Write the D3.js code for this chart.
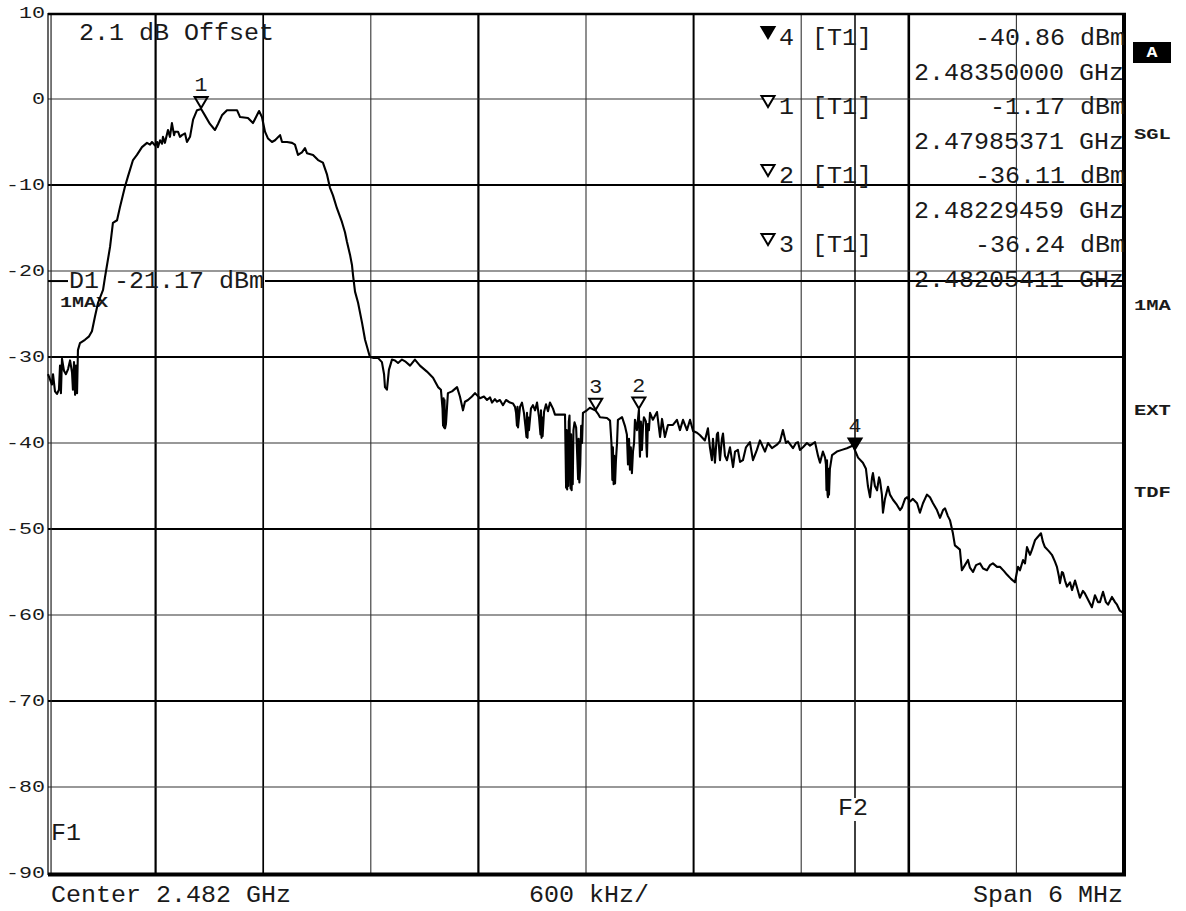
<!DOCTYPE html>
<html><head><meta charset="utf-8">
<script src="https://cdn.jsdelivr.net/npm/d3@7"></script>
<style>html,body{margin:0;padding:0;background:#fff;} svg{display:block;}</style>
</head><body><svg id="c" width="1186" height="911"></svg>
<script>
// ---------------- data ----------------
const startGHz = 2.479;            // F start (center 2.482 GHz, span 6 MHz)
const spanKHz = 6000;
const centerLabel = "Center 2.482 GHz";
const divLabel = "600 kHz/";
const spanLabel = "Span 6 MHz";
const offsetLabel = "2.1 dB Offset";
const yTicks = [10, 0, -10, -20, -30, -40, -50, -60, -70, -80, -90];
const xDivsKHz = [0, 600, 1200, 1800, 2400, 3000, 3600, 4200, 4800, 5400, 6000];
const displayLineDbm = -21.17;
const displayLineName = "D1";
const f1GHz = 2.479017;
const f2GHz = 2.4835;
const sideLabels = ["SGL", "1MA", "EXT", "TDF"];
const traceLabel = "1MAX";

// trace: frequency offset from start (kHz) and level (dBm)
const traceKHz = [
0,11,22,28,39,50,61,67,72,78,
89,100,112,123,134,139,145,151,156,162,
167,178,206,229,245,262,279,307,318,346,
362,385,401,429,446,474,496,524,552,569,
580,597,608,613,625,636,641,652,669,680,
691,703,708,725,736,747,764,775,792,809,
831,854,875,903,931,948,970,998,1054,1071,
1115,1143,1165,1177,1193,1210,1227,1249,1266,1294,
1305,1333,1361,1377,1394,1416,1433,1444,1478,1506,
1533,1556,1572,1589,1611,1639,1656,1667,1684,1695,
1701,1712,1729,1751,1768,1795,1812,1840,1862,1874,
1879,1890,1901,1918,1935,1952,1974,1991,2019,2046,
2074,2113,2147,2175,2191,2200,2203,2206,2208,2211,2214,2219,2230,2253,
2281,2297,2314,2325,2342,2364,2381,2409,2431,2448,
2465,2476,2492,2504,2520,2537,2554,2576,2593,2604,
2610,2615,2618,2621,2632,2643,2654,2662,2668,2671,2674,2677,2682,2693,2704,2716,
2727,2738,2746,2749,2752,2755,2758,2766,2777,2788,2799,2816,2827,2883,
2886,2889,2892,2895,2898,2901,2904,2908,2911,2914,2917,2920,2923,2926,2930,2936,2945,
2952,2956,2959,2963,2968,2973,2978,2983,3005,3022,3054,3067,3078,3117,
3134,3142,3147,3150,3154,3157,3162,3167,3173,3178,3201,3217,3228,3234,3240,3245,
3250,3256,3262,3268,3273,3284,3295,3298,3301,3306,3312,3318,3323,3334,3337,3340,3345,3351,
3357,3373,3396,3413,3424,3440,3457,3485,3507,3524,
3541,3563,3580,3597,3619,3636,3663,3680,3691,3702,
3708,3719,3730,3736,3747,3758,3764,3775,3786,3803,
3820,3831,3847,3859,3875,3892,3914,3931,3953,3970,
3998,4015,4037,4065,4082,4098,4115,4126,4154,4171,
4182,4193,4210,4232,4249,4277,4294,4305,4321,4333,
4338,4341,4344,4347,4349,4352,4355,4360,4372,4399,4427,4455,4489,4500,4517,
4544,4561,4572,4584,4595,4600,4611,4623,4634,4639,
4650,4656,4667,4684,4695,4712,4734,4751,4762,4779,
4790,4807,4823,4846,4862,4879,4901,4918,4935,4957,
4974,4991,5002,5018,5030,5046,5057,5074,5085,5096,
5113,5130,5141,5158,5175,5197,5214,5236,5253,5269,
5292,5308,5331,5347,5370,5392,5403,5409,5420,5437,
5448,5459,5476,5487,5504,5520,5537,5548,5559,5582,
5598,5615,5626,5637,5643,5654,5660,5671,5682,5699,
5710,5727,5738,5754,5771,5782,5799,5821,5838,5855,
5866,5883,5899,5911,5933,5950,5961,5977,6000
];
const traceDbm = [
-32.0,-32.6,-33.2,-32.0,-34.0,-34.3,-33.8,-31.0,-34.2,-30.2,
-31.6,-32.0,-31.4,-30.4,-31.8,-33.8,-30.6,-34.4,-31.0,-34.2,
-29.2,-28.4,-28.0,-27.6,-27.0,-25.3,-23.7,-22.2,-20.7,-17.2,
-14.4,-14.1,-12.6,-10.2,-9.0,-7.1,-6.5,-5.6,-5.1,-5.3,
-5.0,-5.4,-5.0,-5.6,-4.8,-5.2,-4.4,-5.1,-3.6,-4.4,
-2.8,-4.2,-3.8,-3.8,-4.4,-4.2,-4.0,-5.0,-4.4,-2.4,
-1.3,-1.17,-1.9,-2.9,-3.6,-2.9,-1.9,-1.3,-1.3,-2.1,
-2.2,-2.8,-1.9,-1.4,-2.1,-3.8,-4.6,-5.0,-4.8,-4.2,
-5.0,-5.0,-5.1,-5.3,-6.5,-6.2,-5.7,-6.3,-6.5,-7.1,
-7.4,-8.8,-10.3,-11.2,-12.7,-14.3,-15.5,-16.6,-18.1,-19.3,
-20.5,-22.4,-23.7,-26.0,-28.0,-30.0,-30.1,-30.1,-30.6,-32.0,
-33.5,-33.8,-31.5,-30.3,-30.4,-30.7,-30.3,-30.5,-31.0,-30.3,
-31.0,-31.7,-32.4,-33.5,-33.8,-36.0,-38.0,-34.8,-38.2,-35.0,-38.3,-37.8,-34.2,-34.0,
-33.5,-34.6,-36.2,-35.2,-35.0,-34.6,-34.2,-34.8,-34.6,-35.0,
-34.7,-35.3,-34.9,-35.2,-35.0,-35.6,-35.0,-35.3,-35.4,-35.8,
-36.5,-38.0,-35.8,-38.2,-35.8,-35.3,-36.5,-38.0,-39.3,-36.5,-39.4,-37.0,-38.5,-36.0,-35.6,-36.2,
-35.3,-37.0,-39.0,-36.2,-39.4,-37.0,-39.2,-36.4,-35.5,-36.3,-35.3,-36.0,-36.7,-36.7,
-41.0,-45.2,-38.5,-45.4,-40.0,-45.0,-37.5,-36.8,-42.0,-45.3,-39.0,-45.5,-41.0,-44.8,-38.5,-37.6,-38.2,
-42.0,-44.2,-39.5,-44.6,-42.5,-38.0,-40.0,-36.5,-36.2,-35.9,-36.24,-36.6,-37.0,-37.1,
-37.4,-40.0,-44.3,-40.5,-44.8,-41.5,-44.7,-42.0,-40.0,-37.3,-37.0,-38.0,-39.0,-42.5,-39.5,-43.1,
-40.5,-43.5,-41.0,-40.0,-37.3,-38.5,-36.11,-39.5,-41.6,-37.5,-40.8,-38.0,-37.0,-37.5,-40.5,-41.6,-37.8,-38.5,
-36.5,-37.3,-36.4,-39.3,-37.2,-39.3,-37.9,-37.9,-37.3,-38.5,
-37.3,-38.5,-37.3,-38.6,-38.8,-39.1,-39.7,-38.3,-40.5,-42.0,
-39.5,-42.3,-39.0,-38.8,-42.0,-39.5,-38.9,-41.5,-42.0,-40.5,
-42.8,-41.0,-40.8,-42.2,-42.0,-40.5,-39.9,-42.0,-40.8,-39.7,
-41.0,-40.0,-40.6,-40.2,-39.8,-38.5,-40.0,-39.8,-40.6,-40.0,
-39.9,-40.8,-40.5,-40.0,-40.3,-39.9,-41.5,-42.3,-41.0,-41.7,
-42.5,-45.5,-42.0,-46.0,-46.3,-43.0,-46.0,-43.0,-41.4,-41.0,-40.8,-40.6,-40.3,-40.86,-41.7,
-42.3,-43.0,-45.0,-46.3,-44.0,-43.5,-45.0,-45.5,-44.0,-44.3,
-46.0,-48.1,-46.5,-45.1,-46.0,-46.6,-47.2,-47.8,-47.5,-46.5,
-46.3,-46.8,-46.5,-47.0,-48.1,-47.0,-46.0,-46.3,-47.0,-47.8,
-48.7,-47.8,-47.6,-48.5,-49.0,-50.5,-51.9,-52.2,-52.4,-54.8,
-54.2,-53.6,-54.5,-55.0,-54.2,-54.0,-54.6,-54.8,-54.2,-54.0,
-54.4,-54.4,-54.9,-55.3,-55.8,-56.2,-55.0,-54.4,-54.8,-53.6,
-54.0,-52.1,-53.0,-52.4,-51.3,-50.9,-50.5,-51.5,-52.1,-52.6,
-53.0,-53.8,-54.4,-55.5,-56.3,-55.0,-55.1,-56.0,-56.7,-56.2,
-57.1,-56.0,-56.8,-58.0,-57.2,-57.5,-58.2,-59.1,-57.7,-58.5,
-58.5,-57.3,-58.5,-58.8,-57.9,-58.5,-58.8,-59.5,-59.8
];

// markers (table order)
const markerIds = [4, 1, 2, 3];
const markerGHz = [2.48350000, 2.47985371, 2.48229459, 2.48205411];
const markerDbm = [-40.86, -1.17, -36.11, -36.24];
const markerActive = [true, false, false, false];
const markerTrace = "[T1]";

// ---------------- drawing ----------------
const svg = d3.select("#c");
const L = 48, R = 1124, T = 13, B = 873;
const FONT = "'Liberation Mono', 'Courier New', monospace";
const CW = 15; // char advance of the display font

const x = d3.scaleLinear().domain([0, spanKHz]).range([L, R]);
const y = d3.scaleLinear().domain([10, -90]).range([T, B]);
const ghzToKHz = g => (g - startGHz) * 1e6;

svg.append("rect").attr("width", 1186).attr("height", 911).attr("fill", "#fff");

function txt(g, s, px, py, opts = {}) {
  const size = opts.size || 23;
  const cw = opts.cw || CW;
  return g.append("text")
    .attr("x", px).attr("y", py)
    .attr("font-family", FONT)
    .attr("font-size", size)
    .attr("font-weight", opts.bold ? "bold" : "normal")
    .attr("fill", opts.fill || "#1a1a1a")
    .attr("text-anchor", opts.anchor || "start")
    .attr("textLength", s.length * cw)
    .attr("lengthAdjust", "spacingAndGlyphs")
    .text(s);
}

// grid
const grid = svg.append("g");
const vWidths = {1: 2.2, 2: 1.7, 4: 2.2, 6: 2.0, 8: 2.6};
xDivsKHz.forEach((k, i) => {
  if (i === 0 || i === xDivsKHz.length - 1) return;
  const w = vWidths[i] || 1.1;
  grid.append("line")
    .attr("x1", x(k)).attr("x2", x(k)).attr("y1", T).attr("y2", B)
    .attr("stroke", w > 1.5 ? "#000" : "#333").attr("stroke-width", w);
});
const hWidths = {"-10": 2.2, "-30": 2.2, "-50": 2.2, "-70": 2.2};
yTicks.forEach(v => {
  if (v === 10 || v === -90) return;
  const w = hWidths[String(v)] || 1.1;
  grid.append("line")
    .attr("x1", L).attr("x2", R).attr("y1", y(v)).attr("y2", y(v))
    .attr("stroke", w > 1.5 ? "#000" : "#333").attr("stroke-width", w);
});

// F1 / F2 frequency lines
grid.append("line").attr("x1", x(ghzToKHz(f1GHz))).attr("x2", x(ghzToKHz(f1GHz)))
  .attr("y1", T).attr("y2", B).attr("stroke", "#222").attr("stroke-width", 1.2);
const xf2 = x(ghzToKHz(f2GHz));
grid.append("line").attr("x1", xf2).attr("x2", xf2).attr("y1", T).attr("y2", 798)
  .attr("stroke", "#111").attr("stroke-width", 1.6);
grid.append("line").attr("x1", xf2).attr("x2", xf2).attr("y1", 821).attr("y2", B)
  .attr("stroke", "#111").attr("stroke-width", 1.6);

// display line D1 (broken around its label)
const yD1 = y(displayLineDbm);
grid.append("line").attr("x1", L).attr("x2", 68).attr("y1", yD1).attr("y2", yD1)
  .attr("stroke", "#000").attr("stroke-width", 2);
grid.append("line").attr("x1", 265).attr("x2", R).attr("y1", yD1).attr("y2", yD1)
  .attr("stroke", "#000").attr("stroke-width", 2);

// frame
const frame = svg.append("g");
frame.append("line").attr("x1", L).attr("x2", L).attr("y1", T).attr("y2", B + 2)
  .attr("stroke", "#000").attr("stroke-width", 1.2);
frame.append("line").attr("x1", L).attr("x2", R + 2).attr("y1", T + 1).attr("y2", T + 1)
  .attr("stroke", "#000").attr("stroke-width", 2.6);
frame.append("line").attr("x1", R).attr("x2", R).attr("y1", T).attr("y2", B + 3)
  .attr("stroke", "#000").attr("stroke-width", 4);
frame.append("line").attr("x1", L).attr("x2", R + 2).attr("y1", B + 1.5).attr("y2", B + 1.5)
  .attr("stroke", "#000").attr("stroke-width", 4);

// y-axis labels
const yl = svg.append("g");
yTicks.forEach(v => {
  const s = v < 0 ? "-" + Math.abs(v) : String(v);
  txt(yl, s, 45, y(v) + 5, {size: 16, cw: 13, anchor: "end"});
});

// texts in the screen
const tg = svg.append("g");
txt(tg, offsetLabel, 79, 40);
txt(tg, displayLineName + " " + displayLineDbm.toFixed(2) + " dBm", 69, 288);
txt(tg, traceLabel, 60, 307, {size: 14, cw: 12, bold: true});
txt(tg, "F1", 51, 840);
txt(tg, "F2", 838, 815);
txt(tg, centerLabel, 51, 902);
txt(tg, divLabel, 529, 902);
txt(tg, spanLabel, 973, 902);

// marker table
const rowBase = 45, rowStep = 34.5;
markerIds.forEach((id, i) => {
  const b1 = rowBase + rowStep * (2 * i);
  const b2 = rowBase + rowStep * (2 * i + 1);
  const tx = 768;
  tg.append("path")
    .attr("d", `M${tx - 6.5},${b1 - 18}L${tx + 6.5},${b1 - 18}L${tx},${b1 - 7}Z`)
    .attr("fill", markerActive[i] ? "#000" : "#fff")
    .attr("stroke", "#000").attr("stroke-width", 2).attr("stroke-linejoin", "miter");
  txt(tg, String(id), 779, b1);
  txt(tg, markerTrace, 812, b1);
  txt(tg, markerDbm[i].toFixed(2) + " dBm", 1125, b1, {anchor: "end"});
  txt(tg, markerGHz[i].toFixed(8) + " GHz", 1124, b2, {anchor: "end"});
});

// side labels
const side = svg.append("g");
side.append("rect").attr("x", 1133).attr("y", 42).attr("width", 38).attr("height", 21).attr("fill", "#000");
txt(side, "A", 1152, 57, {size: 14, cw: 11, bold: true, fill: "#fff", anchor: "middle"});
const sideY = [139, 310, 415, 497];
sideLabels.forEach((s, i) => txt(side, s, 1134, sideY[i], {size: 14, cw: 12.3, bold: true}));

// trace
const n = Math.min(traceKHz.length, traceDbm.length);
const pts = d3.range(n).map(i => [traceKHz[i], traceDbm[i]]);
svg.append("path")
  .datum(pts)
  .attr("d", d3.line().x(d => x(d[0])).y(d => y(d[1])))
  .attr("fill", "none").attr("stroke", "#000").attr("stroke-width", 2.1)
  .attr("stroke-linejoin", "round");

// markers on trace
const mg = svg.append("g");
markerIds.forEach((id, i) => {
  const mx = x(ghzToKHz(markerGHz[i])), my = y(markerDbm[i]);
  mg.append("path")
    .attr("d", `M${mx - 6.5},${my - 12}L${mx + 6.5},${my - 12}L${mx},${my - 1}Z`)
    .attr("fill", markerActive[i] ? "#000" : "none")
    .attr("stroke", "#000").attr("stroke-width", 2);
  txt(mg, String(id), mx, my - 18, {anchor: "middle", size: 21, cw: 13});
});
</script></body></html>
